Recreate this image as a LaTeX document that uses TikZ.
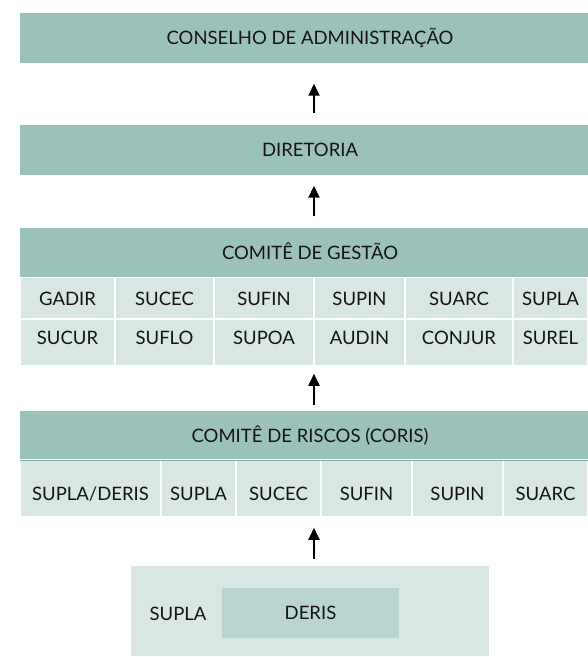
\documentclass[tikz,border=0pt]{standalone}
\usepackage{fontspec}
\setmainfont{Lato}
\usetikzlibrary{arrows.meta}
\definecolor{barteal}{RGB}{155,194,186}
\definecolor{cellteal}{RGB}{217,231,228}
\definecolor{deristeal}{RGB}{184,213,207}
\definecolor{edgeteal}{RGB}{128,176,166}
\tikzset{every picture/.append style={x=1pt,y=-1pt}}
\tikzset{
  box/.style={inner sep=0pt, text height=13pt, text depth=0pt, font=\fontsize{18.5}{22}\selectfont, text=black!92},
  bar/.style={box, fill=barteal, minimum width=580pt, minimum height=50pt},
  cell/.style={box, fill=cellteal, draw=white, line width=1.5pt},
  uparrow/.style={-{Triangle[length=12pt,width=11pt]}, line width=1.8pt},
}

\begin{document}
\begin{tikzpicture}
  \useasboundingbox (0,0) rectangle (588,657);
  \coordinate (axis) at (314,0);
  \node[bar] (conselho) at (310,37.5) {CONSELHO DE ADMINISTRAÇÃO};
  \node[bar] (diretoria) at (310,149.5) {DIRETORIA};
  \node[bar] (gestao) at (310,252.5) {COMITÊ DE GESTÃO};
  \foreach \xa/\xb/\txt [count=\i] in {20/115/GADIR, 115/214/SUCEC, 214/314/SUFIN, 314/405/SUPIN, 405/513/SUARC, 513/588/SUPLA}
    \node[cell, minimum width={(\xb-\xa)*1pt}, minimum height=42pt] (ga-\i) at ({(\xa+\xb)/2},298.5) {\txt};
  \foreach \xa/\xb/\txt [count=\i] in {20/115/SUCUR, 115/214/SUFLO, 214/314/SUPOA, 314/405/AUDIN, 405/513/CONJUR, 513/588/SUREL}
    \node[cell, minimum width={(\xb-\xa)*1pt}, minimum height=47pt, text depth=9pt] (gb-\i) at ({(\xa+\xb)/2},342.5) {\txt};

  \node[bar, minimum height=49pt] (riscos) at (310,435.5) {COMITÊ DE RISCOS (CORIS)};
  \foreach \xa/\xb/\txt [count=\i] in {20/161/{SUPLA/DERIS}, 161/236/SUPLA, 236/321/SUCEC, 321/412/SUFIN, 412/503/SUPIN, 503/588/SUARC}
    \node[cell, minimum width={(\xb-\xa)*1pt}, minimum height=57pt, text height=24pt] (rc-\i) at ({(\xa+\xb)/2},488.5) {\txt};
  \draw[edgeteal, line width=1.2pt] (riscos.south west) -- (riscos.south east);

  \node[fill=cellteal, inner sep=0pt, minimum width=358pt, minimum height=90pt] (base) at (310,611) {};
  \node[box, fill=deristeal, minimum width=177pt, minimum height=50pt] (deris) at (310.5,613) {DERIS};
  \node[box] (supla) at (178,614) {SUPLA};

  \draw[uparrow, shorten <=11pt, shorten >=21pt] (diretoria.north -| axis) -- (conselho.south -| axis);
  \draw[uparrow, shorten <=11pt, shorten >=11pt] (gestao.north -| axis) -- (diretoria.south -| axis);
  \draw[uparrow, shorten <=6pt, shorten >=7pt] (riscos.north -| axis) -- (gb-4.south -| axis);
  \draw[uparrow, shorten <=7pt, shorten >=10pt] (base.north -| axis) -- (rc-4.south -| axis);
\end{tikzpicture}
\end{document}
